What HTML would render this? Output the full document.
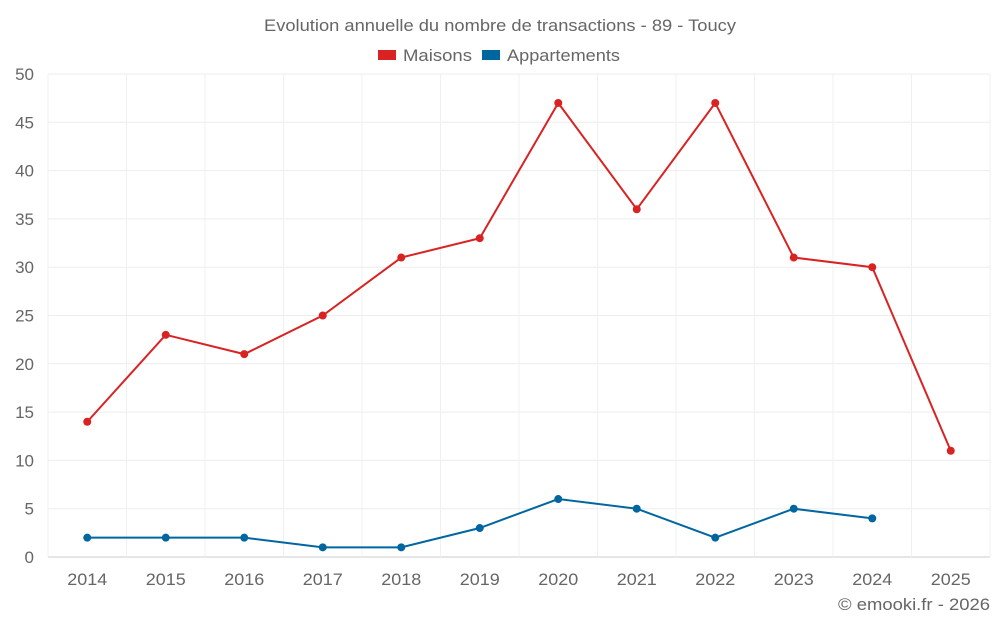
<!DOCTYPE html>
<html><head><meta charset="utf-8"><style>
body{margin:0;background:#fff;font-family:"Liberation Sans",sans-serif;}
svg text{font-family:"Liberation Sans",sans-serif;fill:#666;}
</style></head><body>
<svg id="c" width="1000" height="625">
<text x="264" y="31" font-size="17" textLength="472" lengthAdjust="spacingAndGlyphs">Evolution annuelle du nombre de transactions - 89 - Toucy</text>
<g>
<rect x="378" y="50" width="18" height="10" fill="#d92323"/>
<text x="403" y="61" font-size="17" textLength="69" lengthAdjust="spacingAndGlyphs">Maisons</text>
<rect x="482" y="50" width="18" height="10" fill="#0066a0"/>
<text x="507" y="61" font-size="17" textLength="113" lengthAdjust="spacingAndGlyphs">Appartements</text>
</g>
<g id="grid"></g><g id="axes"></g><g id="series"></g>
<text x="838" y="610" font-size="17" textLength="152" lengthAdjust="spacingAndGlyphs">© emooki.fr - 2026</text>
</svg>
<script>
const years=["2014","2015","2016","2017","2018","2019","2020","2021","2022","2023","2024","2025"];
const maisons=[14,23,21,25,31,33,47,36,47,31,30,11];
const appartements=[2,2,2,1,1,3,6,5,2,5,4,null];
const yTicks=[0,5,10,15,20,25,30,35,40,45,50];
const L=48,R=990,T=74,B=557,yMax=50;
const bw=(R-L)/years.length;
const x=i=>L+bw*(i+0.5);
const y=v=>B-(v/yMax)*(B-T);
const NS="http://www.w3.org/2000/svg";
function mk(tag,at,parent){const e=document.createElementNS(NS,tag);for(const k in at)e.setAttribute(k,at[k]);document.getElementById(parent).appendChild(e);return e;}
yTicks.forEach(t=>{
 const g=mk("line",{x1:L,x2:R,y1:y(t),y2:y(t),stroke:t===0?"#ccc":"#ededed","stroke-width":1},"grid");
 
 
 const tx=mk("text",{x:34,y:y(t)+6,"text-anchor":"end","font-size":17},"axes");
 tx.textContent=t;
 
 
});
for(let i=0;i<=years.length;i++){
 const g=mk("line",{x1:L+bw*i,x2:L+bw*i,y1:T,y2:B,stroke:"#f0f0f0","stroke-width":1},"grid");
 
 
}
years.forEach((yr,i)=>{
 const tx=mk("text",{x:x(i),y:585,"text-anchor":"middle","font-size":17,textLength:40,lengthAdjust:"spacingAndGlyphs"},"axes");
 tx.textContent=yr;
 
 
});
function series(vals,color,name){
 let d="";vals.forEach((v,i)=>{if(v==null)return;d+=(d?"L":"M")+x(i)+","+y(v);});
 const p=mk("path",{d:d,fill:"none",stroke:color,"stroke-width":2},"series");
 
 
 vals.forEach((v,i)=>{if(v==null)return;
  const c=mk("circle",{cx:x(i),cy:y(v),r:4,fill:color},"series");
  
  
 });
}
series(maisons,"#d92323","maisons");
series(appartements,"#0066a0","appartements");
</script>
</body></html>
